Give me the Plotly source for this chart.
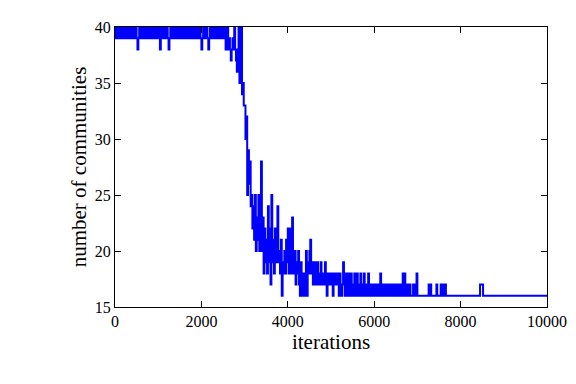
import plotly.graph_objects as go

# sampled every 20 iterations from 0 to 7480
step = 20
communities_main = [
    # 0-480
    40,39,40,39,40,39,39,40,39,40,39,40,39,40,40,39,40,39,40,39,40,39,40,39,40,
    # 500-980
    39,38,39,40,39,40,39,40,39,40,40,39,40,39,40,39,40,39,40,39,40,39,40,39,40,
    # 1000-1480
    39,40,38,39,40,39,40,39,40,39,40,39,38,39,40,39,40,40,39,40,39,40,39,40,39,
    # 1500-1980
    40,39,40,39,40,39,40,40,39,40,39,40,39,40,39,40,39,40,39,40,39,40,39,40,39,
    # 2000-2480
    38,39,40,39,40,39,40,39,38,39,40,39,40,39,40,39,40,39,40,39,40,39,40,39,40,
    # 2500-2980
    40,39,40,38,39,40,38,39,38,37,38,39,38,40,38,37,36,38,40,35,36,40,34,35,33,
    # 3000-3480
    33,30,32,25,29,26,28,24,25,22,24,21,25,20,23,21,25,20,22,28,20,23,18,22,19,
    # 3500-3980
    21,18,24,19,22,17,25,19,21,18,22,19,21,24,19,20,18,21,16,19,18,20,18,21,19,
    # 4000-4480
    22,18,20,22,18,23,19,18,20,17,19,18,20,17,16,19,18,16,18,17,16,20,16,19,18,
    # 4500-4980
    20,21,18,19,17,18,19,17,18,19,17,18,17,19,18,17,18,17,19,17,16,18,17,18,17,
    # 5000-5480
    18,17,16,18,17,18,17,18,17,16,18,17,16,17,19,17,16,18,17,16,18,17,16,18,17,
    # 5500-5980
    16,17,18,16,17,18,16,17,16,18,17,16,17,18,16,17,16,17,18,16,17,16,17,16,17,
    # 6000-6480
    16,17,16,17,16,17,16,18,16,17,16,17,16,17,16,16,17,16,17,16,16,17,16,16,17,
    # 6500-6980
    16,16,17,16,16,17,16,17,18,16,18,17,16,17,16,16,17,16,16,16,17,16,16,17,18,
    # 7000-7480
    16,16,16,16,16,16,16,16,16,16,16,16,16,17,16,17,16,16,16,16,16,16,17,16,16,
]
iterations_main = list(range(0, step * len(communities_main), step))

# sparse tail after 7500
iterations_tail = [7500, 7540, 7580, 7620, 7660, 8450, 8520, 10000]
communities_tail = [16, 17, 16, 17, 16, 17, 16, 16]

iterations = iterations_main + iterations_tail
communities = communities_main + communities_tail

x_ticks = [0, 2000, 4000, 6000, 8000, 10000]
y_ticks = [15, 20, 25, 30, 35, 40]

font_family = "Liberation Serif, Times New Roman, serif"

fig = go.Figure(
    go.Scatter(
        x=iterations,
        y=communities,
        mode="lines",
        line=dict(color="#0000ff", width=2, shape="hv"),
        hoverinfo="skip",
    )
)

axis_common = dict(
    showline=True,
    linecolor="black",
    linewidth=1,
    mirror="allticks",
    ticks="inside",
    ticklen=6,
    tickcolor="black",
    showgrid=False,
    zeroline=False,
    tickfont=dict(family=font_family, size=16, color="black"),
)

fig.update_layout(
    width=576,
    height=384,
    margin=dict(l=107, r=37, t=11, b=85),
    paper_bgcolor="white",
    plot_bgcolor="white",
    showlegend=False,
    xaxis=dict(
        range=[0, 10000],
        tickvals=x_ticks,
        ticktext=[str(v) for v in x_ticks],
        title=dict(text="iterations", font=dict(family=font_family, size=21, color="black"), standoff=3),
        **axis_common,
    ),
    yaxis=dict(
        range=[15, 40],
        tickvals=y_ticks,
        ticktext=[str(v) for v in y_ticks],
        title=dict(text="number of communities", font=dict(family=font_family, size=21, color="black"), standoff=2),
        **axis_common,
    ),
)

fig.write_html("out.html")
